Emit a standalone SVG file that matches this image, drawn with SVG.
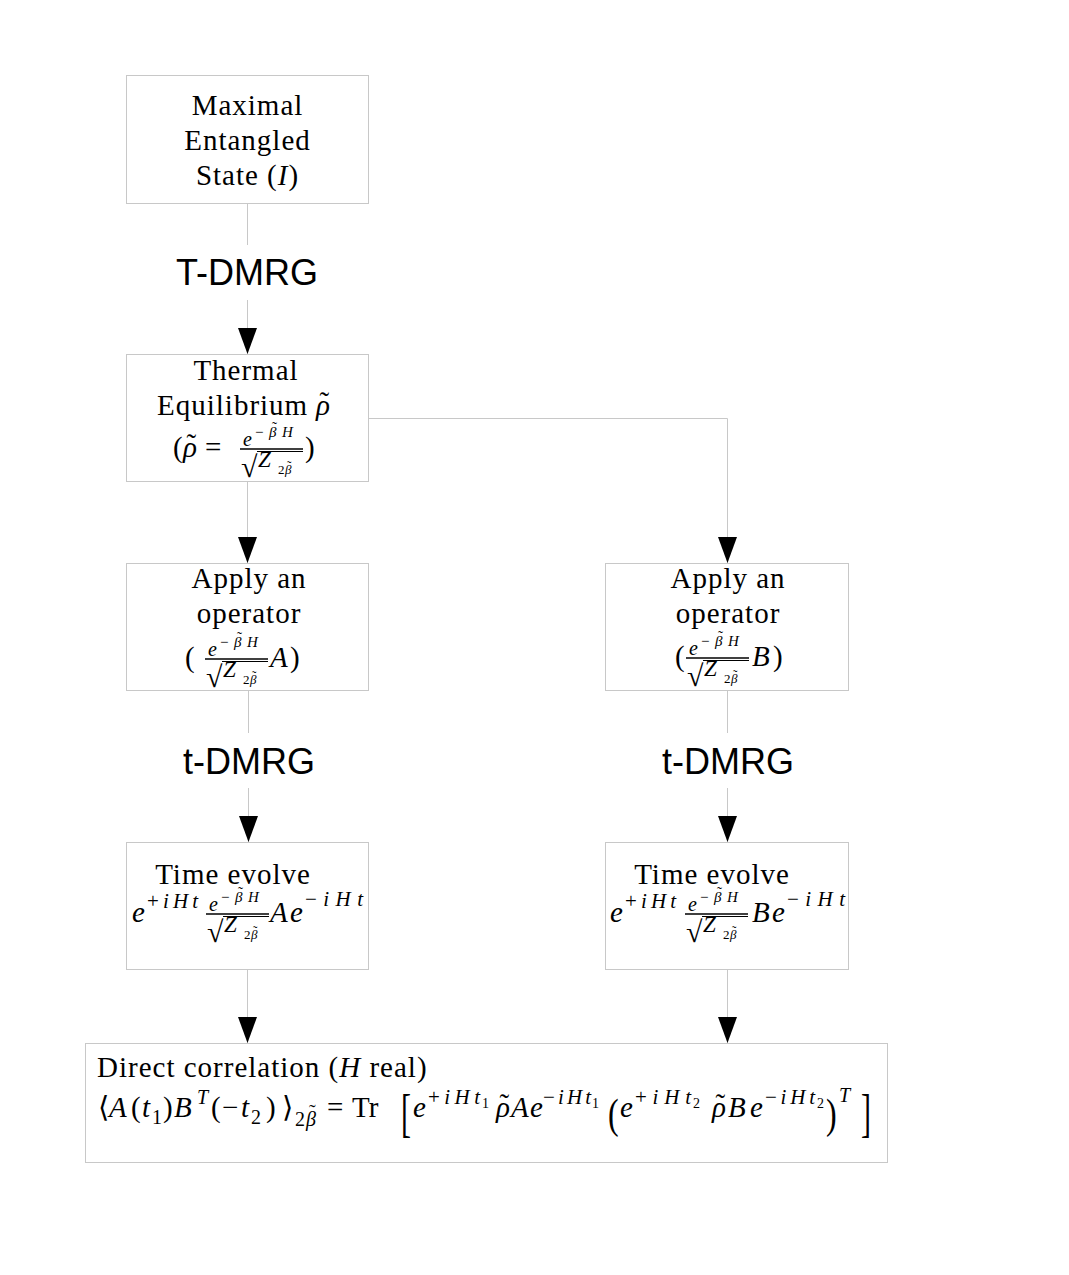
<svg xmlns="http://www.w3.org/2000/svg" width="1069" height="1275" viewBox="0 0 1069 1275">
<style>
.bg{fill:#fff}
.box{fill:#fff;stroke:#c8c8c8;stroke-width:1}
.conn{stroke:#c8c8c8;stroke-width:1;fill:none}
.s{font-family:"Liberation Serif","DejaVu Serif",serif;fill:#000}
.tx{font-size:29px;letter-spacing:1px;text-anchor:middle}
.m{font-size:29px}
.it{font-style:italic}
.up{font-style:normal}
.sup{font-size:21px}
.sub{font-size:20px}
.lbl{font-family:"Liberation Sans",Arial,sans-serif;font-size:36px;text-anchor:middle;fill:#000}
.bar{stroke:#000;stroke-width:1.4}
.vin{stroke:#000;stroke-width:1.2}
.fn{font-size:20px;font-style:italic}
.fs{font-size:15px}
.fz{font-size:23px;font-style:italic}
.fb{font-size:13px}
.rad{font-size:30px}
.s14{font-size:14px}
.big{font-family:"Liberation Serif","DejaVu Serif",serif;fill:#000;font-size:40px}
</style>
<defs>
<marker id="ah" viewBox="0 0 26 19" markerWidth="26" markerHeight="19" refX="26" refY="9.5" orient="auto" markerUnits="userSpaceOnUse">
<path d="M0,0 L26,9.5 L0,19 Z" fill="#000"/>
</marker>
</defs>
<rect class="bg" x="0" y="0" width="1069" height="1275"/>

<g id="connectors">
<line class="conn" x1="247.5" y1="203" x2="247.5" y2="245"/>
<text class="lbl" x="247" y="285">T-DMRG</text>
<line class="conn" x1="247.5" y1="300" x2="247.5" y2="354" marker-end="url(#ah)"/>
<line class="conn" x1="247.5" y1="481" x2="247.5" y2="563" marker-end="url(#ah)"/>
<polyline class="conn" points="368,418.5 727.5,418.5 727.5,563" marker-end="url(#ah)"/>
<line class="conn" x1="248.5" y1="690" x2="248.5" y2="733"/>
<text class="lbl" x="249" y="774">t-DMRG</text>
<line class="conn" x1="248.5" y1="788" x2="248.5" y2="842" marker-end="url(#ah)"/>
<line class="conn" x1="727.5" y1="690" x2="727.5" y2="733"/>
<text class="lbl" x="728" y="774">t-DMRG</text>
<line class="conn" x1="727.5" y1="788" x2="727.5" y2="842" marker-end="url(#ah)"/>
<line class="conn" x1="247.5" y1="969" x2="247.5" y2="1043" marker-end="url(#ah)"/>
<line class="conn" x1="727.5" y1="969" x2="727.5" y2="1043" marker-end="url(#ah)"/>
</g>

<g id="node-maximal">
<rect class="box" x="126.5" y="75.5" width="242" height="128"/>
<text class="s tx" x="247.5" y="115">Maximal</text>
<text class="s tx" x="247.5" y="150">Entangled</text>
<text class="s tx" x="247.5" y="185">State (<tspan class="it">I</tspan>)</text>
</g>

<g id="node-thermal">
<rect class="box" x="126.5" y="354.5" width="242" height="127"/>
<text class="s tx" x="246" y="380">Thermal</text>
<text class="s m" x="157" y="415" letter-spacing="1">Equilibrium</text>
<text class="s m it" x="316" y="415">ρ<tspan class="up" dx="-10.5" dy="-3">˜</tspan></text>
<text class="s m" x="173" y="457">(</text>
<text class="s m it" x="183" y="457">ρ<tspan class="up" dx="-10.5" dy="-3">˜</tspan></text>
<text class="s m" x="205" y="457">=</text>
<g transform="translate(240,449)">
<line class="bar" x1="0" y1="0" x2="63" y2="0"/>
<text class="s fn" x="3" y="-3">e</text>
<text class="s fs" x="15" y="-12">−</text>
<text class="s fs it" x="29" y="-12">β<tspan class="up" dx="-4.5" dy="-5">˜</tspan></text>
<text class="s fs it" x="42" y="-12">H</text>
<text class="s rad" x="1" y="28">√</text>
<line class="vin" x1="17" y1="2.5" x2="63" y2="2.5"/>
<text class="s fz" x="18" y="18">Z</text>
<text class="s fb" x="38" y="25">2</text>
<text class="s fb it" x="45" y="25">β<tspan class="up" dx="-4.5" dy="-4">˜</tspan></text>
</g>
<text class="s m" x="305" y="457">)</text>
</g>

<g id="node-apply-a">
<rect class="box" x="126.5" y="563.5" width="242" height="127"/>
<text class="s tx" x="249" y="588">Apply an</text>
<text class="s tx" x="249" y="623">operator</text>
<text class="s m" x="185" y="667">(</text>
<g transform="translate(205,659)">
<line class="bar" x1="0" y1="0" x2="63" y2="0"/>
<text class="s fn" x="3" y="-3">e</text>
<text class="s fs" x="15" y="-12">−</text>
<text class="s fs it" x="29" y="-12">β<tspan class="up" dx="-4.5" dy="-5">˜</tspan></text>
<text class="s fs it" x="42" y="-12">H</text>
<text class="s rad" x="1" y="28">√</text>
<line class="vin" x1="17" y1="2.5" x2="63" y2="2.5"/>
<text class="s fz" x="18" y="18">Z</text>
<text class="s fb" x="38" y="25">2</text>
<text class="s fb it" x="45" y="25">β<tspan class="up" dx="-4.5" dy="-4">˜</tspan></text>
</g>
<text class="s m it" x="270" y="667">A</text>
<text class="s m" x="290" y="667">)</text>
</g>

<g id="node-apply-b">
<rect class="box" x="605.5" y="563.5" width="243" height="127"/>
<text class="s tx" x="728" y="588">Apply an</text>
<text class="s tx" x="728" y="623">operator</text>
<text class="s m" x="675" y="666">(</text>
<g transform="translate(686,658)">
<line class="bar" x1="0" y1="0" x2="63" y2="0"/>
<text class="s fn" x="3" y="-3">e</text>
<text class="s fs" x="15" y="-12">−</text>
<text class="s fs it" x="29" y="-12">β<tspan class="up" dx="-4.5" dy="-5">˜</tspan></text>
<text class="s fs it" x="42" y="-12">H</text>
<text class="s rad" x="1" y="28">√</text>
<line class="vin" x1="17" y1="2.5" x2="63" y2="2.5"/>
<text class="s fz" x="18" y="18">Z</text>
<text class="s fb" x="38" y="25">2</text>
<text class="s fb it" x="45" y="25">β<tspan class="up" dx="-4.5" dy="-4">˜</tspan></text>
</g>
<text class="s m it" x="752" y="666">B</text>
<text class="s m" x="773" y="666">)</text>
</g>

<g id="node-evolve-a">
<rect class="box" x="126.5" y="842.5" width="242" height="127"/>
<text class="s tx" x="233" y="884">Time evolve</text>
<text class="s m it" x="132" y="922">e</text>
<text class="s sup" x="147" y="908" textLength="51" lengthAdjust="spacing">+<tspan class="it">iHt</tspan></text>
<g transform="translate(206,914)">
<line class="bar" x1="0" y1="0" x2="63" y2="0"/>
<text class="s fn" x="3" y="-3">e</text>
<text class="s fs" x="15" y="-12">−</text>
<text class="s fs it" x="29" y="-12">β<tspan class="up" dx="-4.5" dy="-5">˜</tspan></text>
<text class="s fs it" x="42" y="-12">H</text>
<text class="s rad" x="1" y="28">√</text>
<line class="vin" x1="17" y1="2.5" x2="63" y2="2.5"/>
<text class="s fz" x="18" y="18">Z</text>
<text class="s fb" x="38" y="25">2</text>
<text class="s fb it" x="45" y="25">β<tspan class="up" dx="-4.5" dy="-4">˜</tspan></text>
</g>
<text class="s m it" x="270" y="922">A</text>
<text class="s m it" x="290" y="922">e</text>
<text class="s sup" x="305" y="906" textLength="58" lengthAdjust="spacing">−<tspan class="it">iHt</tspan></text>
</g>

<g id="node-evolve-b">
<rect class="box" x="605.5" y="842.5" width="243" height="127"/>
<text class="s tx" x="712" y="884">Time evolve</text>
<text class="s m it" x="610" y="922">e</text>
<text class="s sup" x="625" y="908" textLength="51" lengthAdjust="spacing">+<tspan class="it">iHt</tspan></text>
<g transform="translate(685,914)">
<line class="bar" x1="0" y1="0" x2="63" y2="0"/>
<text class="s fn" x="3" y="-3">e</text>
<text class="s fs" x="15" y="-12">−</text>
<text class="s fs it" x="29" y="-12">β<tspan class="up" dx="-4.5" dy="-5">˜</tspan></text>
<text class="s fs it" x="42" y="-12">H</text>
<text class="s rad" x="1" y="28">√</text>
<line class="vin" x1="17" y1="2.5" x2="63" y2="2.5"/>
<text class="s fz" x="18" y="18">Z</text>
<text class="s fb" x="38" y="25">2</text>
<text class="s fb it" x="45" y="25">β<tspan class="up" dx="-4.5" dy="-4">˜</tspan></text>
</g>
<text class="s m it" x="752" y="922">B</text>
<text class="s m it" x="772" y="922">e</text>
<text class="s sup" x="787" y="906" textLength="58" lengthAdjust="spacing">−<tspan class="it">iHt</tspan></text>
</g>

<g id="node-correlation">
<rect class="box" x="85.5" y="1043.5" width="802" height="119"/>
<text class="s m" x="97" y="1077" letter-spacing="1">Direct correlation (<tspan class="it">H</tspan> real)</text>
<g class="s m">
<text x="98" y="1117">⟨</text>
<text class="it" x="109" y="1117">A</text>
<text x="131" y="1117">(</text>
<text class="it" x="142" y="1117">t</text>
<text class="sub" x="152" y="1124">1</text>
<text x="163" y="1117">)</text>
<text class="it" x="174" y="1117">B</text>
<text class="sub it" x="197" y="1104">T</text>
<text x="211" y="1117">(</text>
<text x="222" y="1117">−</text>
<text class="it" x="241" y="1117">t</text>
<text class="sub" x="251" y="1124">2</text>
<text x="266" y="1117">)</text>
<text x="282" y="1117">⟩</text>
<text class="sub" x="295" y="1126">2</text>
<text class="sub it" x="306" y="1126">β<tspan class="up" dx="-7" dy="-7">˜</tspan></text>
<text x="327" y="1117">=</text>
<text x="352" y="1117">Tr</text>
<text class="it" x="413" y="1117">e</text>
<text class="sup" x="428" y="1104" textLength="52" lengthAdjust="spacing">+<tspan class="it">iHt</tspan></text>
<text class="s14" x="482" y="1108">1</text>
<text class="it" x="496" y="1117">ρ<tspan class="up" dx="-10.5" dy="-3">˜</tspan></text>
<text class="it" x="511" y="1117">A</text>
<text class="it" x="530" y="1117">e</text>
<text class="sup" x="543" y="1104" textLength="48" lengthAdjust="spacing">−<tspan class="it">iHt</tspan></text>
<text class="s14" x="592" y="1108">1</text>
<text class="it" x="620" y="1117">e</text>
<text class="sup" x="635" y="1104" textLength="56" lengthAdjust="spacing">+<tspan class="it">iHt</tspan></text>
<text class="s14" x="693" y="1108">2</text>
<text class="it" x="712" y="1117">ρ<tspan class="up" dx="-10.5" dy="-3">˜</tspan></text>
<text class="it" x="728" y="1117">B</text>
<text class="it" x="750" y="1117">e</text>
<text class="sup" x="765" y="1104" textLength="50" lengthAdjust="spacing">−<tspan class="it">iHt</tspan></text>
<text class="s14" x="817" y="1108">2</text>
<text class="sub it" x="839" y="1102">T</text>
</g>
<text class="big" transform="translate(401,1131) scale(0.75,1.3)">[</text>
<text class="big" transform="translate(608,1128) scale(0.8,1.05)">(</text>
<text class="big" transform="translate(826,1128) scale(0.8,1.05)">)</text>
<text class="big" transform="translate(861,1131) scale(0.75,1.3)">]</text>
</g>
</svg>
